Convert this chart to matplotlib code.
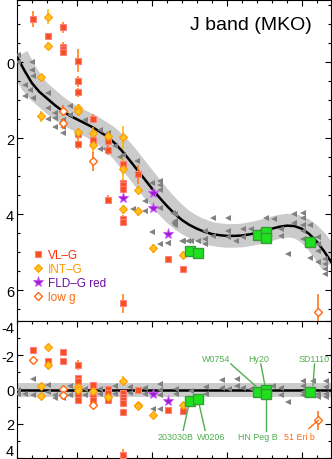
import numpy as np
import matplotlib.pyplot as plt
from matplotlib.lines import Line2D
from matplotlib.ticker import MultipleLocator

plt.rcParams['font.family'] = ['Liberation Sans', 'DejaVu Sans']
plt.rcParams['axes.unicode_minus'] = False

### fit curve (M_J vs spectral type, M6=6, L0=10, T0=20)
fit_spt = [6.0, 6.5, 7.0, 7.5, 8.0, 8.5, 9.0, 9.5, 10.0, 10.5, 11.0, 11.5, 12.0, 12.5,
           13.0, 13.5, 14.0, 14.5, 15.0, 15.5, 16.0, 16.5, 17.0, 17.5, 18.0, 18.5, 19.0,
           19.5, 20.0, 20.5, 21.0, 21.5, 22.0, 22.5, 23.0, 23.5, 24.0, 24.5, 25.0, 25.5,
           26.0, 26.5, 27.0]
fit_mag = [-0.15, 0.22, 0.55, 0.78, 0.95, 1.12, 1.27, 1.40, 1.50, 1.60, 1.70, 1.82, 1.95, 2.12,
           2.33, 2.57, 2.82, 3.07, 3.32, 3.56, 3.78, 3.98, 4.15, 4.28, 4.38, 4.46, 4.52,
           4.55, 4.57, 4.57, 4.56, 4.53, 4.49, 4.44, 4.38, 4.33, 4.30, 4.31, 4.38, 4.52,
           4.72, 4.98, 5.28]

### field objects
fld_spt = [6.09, 6.09, 6.98, 6.98, 7.07, 6.53, 6.87, 6.53, 7.07, 8.09, 8.09, 8.09, 8.53, 8.53,
           8.53, 9.05, 9.05, 9.05, 9.53, 9.53, 10.53, 11.53, 12.07, 12.53, 11.53, 11.87, 13.98,
           15.53, 15.53, 14.53, 14.53, 16.53, 16.53, 16.53, 14.98, 15.53, 16.09, 16.98, 17.42,
           13.76, 14.98, 15.53, 15.53, 16.38, 16.49, 16.05, 17.05, 17.6, 18.05, 18.55, 18.55,
           18.55, 19.05, 19.05, 20.05, 20.05, 20.05, 20.6, 21.05, 21.05, 21.6, 22.05, 22.6,
           23.15, 23.6, 23.6, 24.05, 24.49, 24.49, 25.05, 25.05, 25.05, 25.05, 25.05, 25.53,
           25.53, 26.05, 26.05, 26.05, 26.05, 26.55, 26.55, 26.55, 26.55, 13.09, 12.9]
fld_mag = [-0.20, 0.00, 0.00, 0.20, 0.35, 0.59, 0.72, 0.90, 0.93, 0.81, 1.19, 1.48, 1.33, 1.46,
           1.69, 1.51, 1.69, 1.85, 1.14, 1.38, 1.51, 1.77, 1.85, 2.21, 2.28, 2.28, 2.60,
           3.13, 3.35, 3.65, 3.92, 4.00, 4.18, 4.28, 4.48, 4.79, 4.76, 4.70, 4.70,
           3.87, 3.17, 3.22, 3.83, 3.96, 4.22, 4.75, 4.70, 4.70, 4.70, 4.44, 4.64,
           4.79, 4.09, 4.57, 4.09, 4.44, 4.61, 4.70, 4.38, 4.61, 4.40, 4.47, 4.09,
           4.13, 4.40, 4.57, 5.05, 4.00, 4.22, 3.96, 4.09, 4.27, 4.44, 4.64, 4.27,
           5.14, 4.61, 4.79, 4.97, 5.27, 5.18, 5.31, 5.45, 5.58, 2.45, 2.50]

fld_res_spt = [6.09, 6.09, 6.53, 7.05, 7.05, 8.09, 8.09, 8.53, 8.53, 9.05, 9.53, 9.53, 10.53,
               10.53, 11.53, 11.53, 12.53, 12.53, 13.53, 13.53, 14.53, 14.53, 15.53, 15.53,
               15.53, 15.53, 15.09, 16.6, 16.6, 17.6, 18.6, 18.6, 19.71, 19.71, 20.15, 20.71,
               20.71, 21.05, 21.6, 22.05, 23.05, 23.6, 23.6, 24.05, 25.05, 25.05, 25.05, 25.05,
               25.72, 26.05, 26.05, 26.6, 26.6, 26.6, 26.6]
fld_res = [0.25, 0.05, 0.25, -0.62, 0.35, -0.27, 0.12, 0.35, 0.52, 0.50, -0.20, 0.35, -0.04,
           0.35, -0.04, 0.25, -0.20, 0.25, -0.14, 0.20, 0.25, -0.10, -0.33, 0.05,
           0.35, 1.12, 1.12, -0.04, 0.25, 0.10, -0.14, 0.25, -0.56, -0.08, -0.04, -0.62,
           -0.20, -0.08, -0.04, 0.05, -0.20, -0.10, 0.35, 0.74, -0.47, -0.20, 0.15, 0.35,
           -0.52, 0.25, 0.45, -0.52, -0.15, 0.25, 0.45]

### VL-G
vlg_spt = [7.04, 8.09, 9.05, 9.05, 9.05, 9.05, 10.05, 10.05, 10.05, 10.05, 10.05, 11.05, 11.05,
           12.05, 12.05, 12.05, 13.09, 13.09, 13.09, 13.09, 13.09, 13.09, 13.09, 14.09, 16.09, 17.09]
vlg_mag = [-1.14, -0.68, -0.92, -0.41, -0.35, -0.28, -0.04, 0.50, 0.79, 1.90, 2.14, 1.49, 2.05,
           2.08, 2.30, 3.62, 2.69, 3.17, 3.24, 3.33, 4.13, 4.20, 6.34, 2.95, 5.18, 5.43]
vlg_err = [0.22, 0.10, 0.15, 0.12, 0.12, 0.12, 0.30, 0.15, 0.12, 0.12, 0.15, 0.12, 0.15,
           0.12, 0.15, 0.12, 0.15, 0.10, 0.10, 0.10, 0.10, 0.10, 0.25, 0.25, 0.08, 0.08]
vlg_res_spt = [7.05, 8.09, 9.05, 9.05, 10.05, 10.05, 10.05, 10.05, 10.05, 11.05, 11.05, 11.05,
               12.05, 12.05, 12.05, 13.09, 13.09, 13.09, 13.09, 13.09, 13.09, 14.09, 16.05, 17.05]
vlg_res = [-2.33, -1.69, -2.21, -1.65, -1.44, -0.68, -0.49, 0.35, 0.64, -0.27, 0.44, 0.60,
           -0.04, 0.19, 0.64, 0.21, 0.41, 0.64, 0.77, 1.31, 3.80, 0.00, 1.18, 1.28]
vlg_res_err = [0.12, 0.10, 0.12, 0.10, 0.30, 0.15, 0.12, 0.12, 0.15, 0.12, 0.12, 0.12,
               0.12, 0.12, 0.12, 0.10, 0.10, 0.10, 0.10, 0.15, 0.30, 0.10, 0.08, 0.08]

### INT-G
intg_spt = [8.09, 8.09, 7.58, 7.58, 10.05, 10.05, 10.05, 11.05, 11.05, 12.05, 13.09, 13.09,
            13.09, 14.09, 14.09, 15.09, 17.05]
intg_mag = [-1.20, -0.43, 0.40, 1.42, 1.20, 1.29, 1.84, 1.86, 2.18, 1.95, 1.97, 2.82,
            3.87, 3.35, 3.92, 4.90, 5.08]
intg_err = [0.20, 0.10, 0.10, 0.15, 0.10, 0.10, 0.12, 0.15, 0.20, 0.15, 0.30, 0.30,
            0.12, 0.12, 0.12, 0.12, 0.10]
intg_res_spt = [8.09, 8.09, 7.58, 7.58, 10.05, 10.05, 11.05, 12.05, 13.09, 14.09, 14.09, 15.05, 17.05]
intg_res = [-2.46, -1.45, -0.20, 0.38, -0.14, 0.00, 0.06, 0.44, -0.52, 0.89, 0.95, 1.51, 0.89]
intg_res_err = [0.15, 0.10, 0.10, 0.15, 0.10, 0.10, 0.15, 0.15, 0.25, 0.12, 0.12, 0.12, 0.10]

### FLD-G red
red_spt = [13.09, 15.09, 15.09, 16.09]
red_mag = [3.56, 3.43, 3.83, 4.53]
red_res_spt = [15.05, 16.05]
red_res = [0.25, 0.70]

### low g
lowg_spt = [9.05, 9.05, 11.09, 26.11]
lowg_mag = [1.27, 1.61, 2.60, 6.56]
lowg_err = [0.15, 0.15, 0.25, 0.45]
lowg_res_spt = [7.05, 9.05, 9.05, 11.05, 26.11]
lowg_res = [-1.74, -0.04, 0.31, 0.89, 1.80]
lowg_res_err = [0.10, 0.10, 0.10, 0.15, 0.55]

### binaries / companions (green)
grn_spt = [17.55, 18.09, 22.09, 22.6, 22.6, 25.55]
grn_mag = [4.98, 5.02, 4.55, 4.46, 4.63, 4.72]
grn_res = [0.69, 0.58, 0.12, 0.05, 0.25, 0.15]

### labels: name, text x, text y, line start, line end
lab_names = ["W0754", "Hy20", "SD1110", "HN Peg B", "203030B", "W0206"]
lab_x = [19.31, 22.11, 25.8, 22.05, 16.6, 18.93]
lab_y = [-1.83, -1.83, -1.83, 2.77, 2.77, 2.77]
lab_line_x = [(20.27, 21.93), (22.27, 22.55), (25.85, 25.75), (22.6, 22.6), (17.09, 17.45), (18.55, 18.15)]
lab_line_y = [(-1.49, -0.2), (-1.49, -0.2), (-1.49, -0.25), (2.45, 0.4), (2.38, 0.95), (2.38, 0.85)]

sq_face, sq_edge, sq_err = '#f5501e', '#ff8080', '#ff7a00'
di_face, di_edge, di_err = '#ffc21f', '#ff9a00', '#ffb000'
st_face, st_edge = '#9a1fd0', '#d050ff'
lg_col = '#ff6a10'
gr_face, gr_edge, gr_txt = '#1ee01e', '#3a9a3a', '#4fae4f'
tri = '#808080'

fig = plt.figure(figsize=(3.32, 4.60), dpi=100)
ax1 = fig.add_axes([17/332, 138/460, 314/332, 321/460])
ax2 = fig.add_axes([17/332, 1/460, 314/332, 137/460])


def draw(ax, fx, fy, band_lw, pts):
    ax.plot(fx, fy, color='#cbcbcb', lw=band_lw, solid_capstyle='butt', zorder=1)
    ax.plot(fx, fy, color='black', lw=1.8, zorder=2)
    ax.plot(pts['fld'][0], pts['fld'][1], '<', color=tri, ms=4.5, mew=0, zorder=3)
    ax.errorbar(pts['vlg'][0], pts['vlg'][1], yerr=pts['vlg'][2], fmt='none', ecolor=sq_err,
                elinewidth=1.1, zorder=4)
    ax.errorbar(pts['intg'][0], pts['intg'][1], yerr=pts['intg'][2], fmt='none', ecolor=di_err,
                elinewidth=1.1, zorder=4)
    ax.errorbar(pts['lowg'][0], pts['lowg'][1], yerr=pts['lowg'][2], fmt='none', ecolor=lg_col,
                elinewidth=1.1, zorder=4)
    ax.plot(pts['vlg'][0], pts['vlg'][1], 's', mfc=sq_face, mec=sq_edge, ms=4.7, mew=0.8, zorder=5)
    ax.plot(pts['intg'][0], pts['intg'][1], 'D', mfc=di_face, mec=di_edge, ms=4.0, mew=0.8, zorder=5)
    ax.plot(pts['red'][0], pts['red'][1], '*', mfc=st_face, mec=st_edge, ms=8, mew=0.6, zorder=5)
    ax.plot(pts['lowg'][0], pts['lowg'][1], 'D', mfc='white', mec=lg_col, ms=4.0, mew=1.0, zorder=5)
    ax.plot(pts['grn'][0], pts['grn'][1], 's', mfc=gr_face, mec=gr_edge, ms=7.5, mew=1.0, zorder=6)


draw(ax1, fit_spt, fit_mag, 17, {
    'fld': (fld_spt, fld_mag), 'vlg': (vlg_spt, vlg_mag, vlg_err),
    'intg': (intg_spt, intg_mag, intg_err), 'red': (red_spt, red_mag),
    'lowg': (lowg_spt, lowg_mag, lowg_err), 'grn': (grn_spt, grn_mag)})

zero_x = [fit_spt[0], fit_spt[-1]]
draw(ax2, zero_x, [0, 0], 10, {
    'fld': (fld_res_spt, fld_res), 'vlg': (vlg_res_spt, vlg_res, vlg_res_err),
    'intg': (intg_res_spt, intg_res, intg_res_err), 'red': (red_res_spt, red_res),
    'lowg': (lowg_res_spt, lowg_res, lowg_res_err), 'grn': (grn_spt, grn_res)})

###labels on residual panel
for name, tx, ty, lx, ly in zip(lab_names, lab_x, lab_y, lab_line_x, lab_line_y):
    ax2.plot(lx, ly, color=gr_txt, lw=1.0, zorder=5)
    ax2.text(tx, ty, name, color=gr_txt, fontsize=6.4, ha='center', va='center')
ax2.plot([25.47, 26.11], [2.28, 1.80], color=lg_col, lw=1.0, zorder=5)
ax2.text(24.82, 2.77, "51 Eri b", color=lg_col, fontsize=6.4, ha='center', va='center')

ax1.text(0.94, 0.925, "J band (MKO)", transform=ax1.transAxes, fontsize=14,
         ha='right', va='center')

###legend
handles = [
    Line2D([], [], ls='none', marker='s', mfc=sq_face, mec=sq_edge, ms=4.7, mew=0.8),
    Line2D([], [], ls='none', marker='D', mfc=di_face, mec=di_edge, ms=4.0, mew=0.8),
    Line2D([], [], ls='none', marker='*', mfc=st_face, mec=st_edge, ms=8, mew=0.6),
    Line2D([], [], ls='none', marker='D', mfc='white', mec=lg_col, ms=4.0, mew=1.0),
]
labels = ["VL\u2013G", "INT\u2013G", "FLD\u2013G red", "low g"]
leg = ax1.legend(handles, labels, loc='lower left', bbox_to_anchor=(0.03, 0.035),
                 frameon=False, fontsize=8.5, handlelength=0.8, handletextpad=0.4,
                 labelspacing=0.15, borderpad=0.1)
for t, c in zip(leg.get_texts(), ['#ff2a00', '#ff9900', '#6a0fa0', '#ff6a10']):
    t.set_color(c)

###axes setup
for ax in (ax1, ax2):
    ax.set_xlim(6, 26.95)
    ax.xaxis.set_major_locator(MultipleLocator(5))
    ax.xaxis.set_minor_locator(MultipleLocator(1))
    ax.tick_params(which='both', direction='in', top=True, right=True, width=0.8,
                   labelbottom=False, labelsize=10.5, pad=2)
    ax.tick_params(which='major', length=4.5)
    ax.tick_params(which='minor', length=2.4)
    for s in ax.spines.values():
        s.set_linewidth(0.8)

ax1.set_ylim(6.81, -1.64)
ax1.yaxis.set_major_locator(MultipleLocator(2))
ax1.yaxis.set_minor_locator(MultipleLocator(0.5))
ax1.tick_params(bottom=False, which='both')

ax2.set_ylim(4, -4)
ax2.set_yticks([-4, -2, 0, 2, 4])
ax2.yaxis.set_minor_locator(MultipleLocator(1))
ylabs = ax2.get_yticklabels()
ylabs[0].set_va('top')
ylabs[-1].set_va('bottom')

fig.savefig("out.png", dpi=100)
